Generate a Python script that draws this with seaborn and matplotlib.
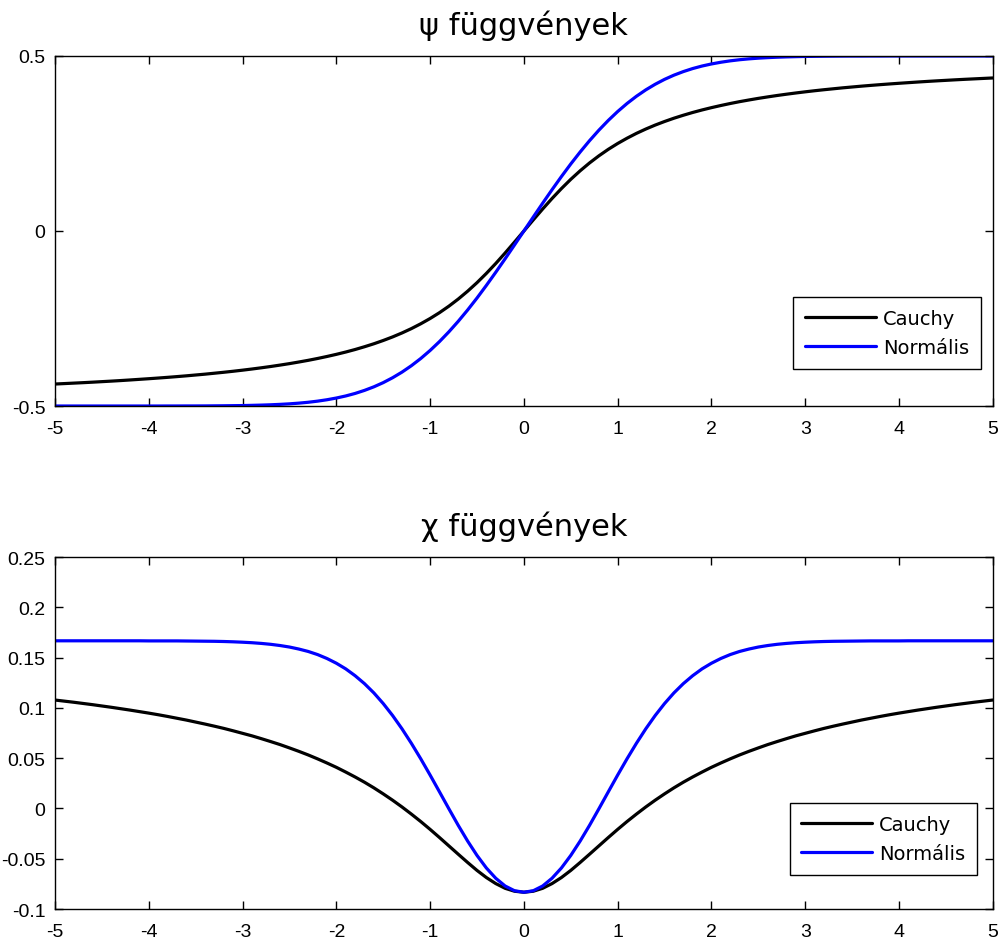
import matplotlib
matplotlib.use("Agg")
import matplotlib.pyplot as plt
import seaborn as sns
import pandas as pd

# x grid (step 0.1 from -5 to 5)
x_vals = [-5.0, -4.9, -4.8, -4.7, -4.6, -4.5, -4.4, -4.3, -4.2, -4.1,
          -4.0, -3.9, -3.8, -3.7, -3.6, -3.5, -3.4, -3.3, -3.2, -3.1,
          -3.0, -2.9, -2.8, -2.7, -2.6, -2.5, -2.4, -2.3, -2.2, -2.1,
          -2.0, -1.9, -1.8, -1.7, -1.6, -1.5, -1.4, -1.3, -1.2, -1.1,
          -1.0, -0.9, -0.8, -0.7, -0.6, -0.5, -0.4, -0.3, -0.2, -0.1,
          0.0,
          0.1, 0.2, 0.3, 0.4, 0.5, 0.6, 0.7, 0.8, 0.9, 1.0,
          1.1, 1.2, 1.3, 1.4, 1.5, 1.6, 1.7, 1.8, 1.9, 2.0,
          2.1, 2.2, 2.3, 2.4, 2.5, 2.6, 2.7, 2.8, 2.9, 3.0,
          3.1, 3.2, 3.3, 3.4, 3.5, 3.6, 3.7, 3.8, 3.9, 4.0,
          4.1, 4.2, 4.3, 4.4, 4.5, 4.6, 4.7, 4.8, 4.9, 5.0]

psi_cauchy = [-0.4372, -0.4359, -0.4346, -0.4333, -0.4319, -0.4304, -0.4289, -0.4273, -0.4256, -0.4238,
              -0.4220, -0.4201, -0.4181, -0.4160, -0.4138, -0.4114, -0.4090, -0.4063, -0.4036, -0.4007,
              -0.3976, -0.3943, -0.3908, -0.3871, -0.3831, -0.3789, -0.3743, -0.3695, -0.3642, -0.3585,
              -0.3524, -0.3458, -0.3386, -0.3307, -0.3222, -0.3128, -0.3026, -0.2913, -0.2789, -0.2651,
              -0.2500, -0.2333, -0.2148, -0.1944, -0.1720, -0.1476, -0.1211, -0.0928, -0.0628, -0.0317,
              0.0,
              0.0317, 0.0628, 0.0928, 0.1211, 0.1476, 0.1720, 0.1944, 0.2148, 0.2333, 0.2500,
              0.2651, 0.2789, 0.2913, 0.3026, 0.3128, 0.3222, 0.3307, 0.3386, 0.3458, 0.3524,
              0.3585, 0.3642, 0.3695, 0.3743, 0.3789, 0.3831, 0.3871, 0.3908, 0.3943, 0.3976,
              0.4007, 0.4036, 0.4063, 0.4090, 0.4114, 0.4138, 0.4160, 0.4181, 0.4201, 0.4220,
              0.4238, 0.4256, 0.4273, 0.4289, 0.4304, 0.4319, 0.4333, 0.4346, 0.4359, 0.4372]

psi_normal = [-0.5000, -0.5000, -0.5000, -0.5000, -0.5000, -0.5000, -0.5000, -0.5000, -0.5000, -0.5000,
              -0.5000, -0.5000, -0.4999, -0.4999, -0.4998, -0.4998, -0.4997, -0.4995, -0.4993, -0.4990,
              -0.4987, -0.4981, -0.4974, -0.4965, -0.4953, -0.4938, -0.4918, -0.4893, -0.4861, -0.4821,
              -0.4772, -0.4713, -0.4641, -0.4554, -0.4452, -0.4332, -0.4192, -0.4032, -0.3849, -0.3643,
              -0.3413, -0.3159, -0.2881, -0.2580, -0.2257, -0.1915, -0.1554, -0.1179, -0.0793, -0.0398,
              0.0,
              0.0398, 0.0793, 0.1179, 0.1554, 0.1915, 0.2257, 0.2580, 0.2881, 0.3159, 0.3413,
              0.3643, 0.3849, 0.4032, 0.4192, 0.4332, 0.4452, 0.4554, 0.4641, 0.4713, 0.4772,
              0.4821, 0.4861, 0.4893, 0.4918, 0.4938, 0.4953, 0.4965, 0.4974, 0.4981, 0.4987,
              0.4990, 0.4993, 0.4995, 0.4997, 0.4998, 0.4998, 0.4999, 0.4999, 0.5000, 0.5000,
              0.5000, 0.5000, 0.5000, 0.5000, 0.5000, 0.5000, 0.5000, 0.5000, 0.5000, 0.5000]

chi_cauchy = [0.1078, 0.1067, 0.1056, 0.1044, 0.1032, 0.1019, 0.1006, 0.0992, 0.0978, 0.0963,
              0.0948, 0.0932, 0.0915, 0.0897, 0.0879, 0.0859, 0.0839, 0.0818, 0.0796, 0.0772,
              0.0747, 0.0722, 0.0694, 0.0665, 0.0635, 0.0602, 0.0568, 0.0532, 0.0493, 0.0452,
              0.0409, 0.0362, 0.0313, 0.0261, 0.0205, 0.0145, 0.0082, 0.0015, -0.0056, -0.0130,
              -0.0208, -0.0289, -0.0372, -0.0455, -0.0537, -0.0616, -0.0687, -0.0747, -0.0794, -0.0823,
              -0.0833,
              -0.0823, -0.0794, -0.0747, -0.0687, -0.0616, -0.0537, -0.0455, -0.0372, -0.0289, -0.0208,
              -0.0130, -0.0056, 0.0015, 0.0082, 0.0145, 0.0205, 0.0261, 0.0313, 0.0362, 0.0409,
              0.0452, 0.0493, 0.0532, 0.0568, 0.0602, 0.0635, 0.0665, 0.0694, 0.0722, 0.0747,
              0.0772, 0.0796, 0.0818, 0.0839, 0.0859, 0.0879, 0.0897, 0.0915, 0.0932, 0.0948,
              0.0963, 0.0978, 0.0992, 0.1006, 0.1019, 0.1032, 0.1044, 0.1056, 0.1067, 0.1078]

chi_normal = [0.1667, 0.1667, 0.1667, 0.1667, 0.1667, 0.1667, 0.1667, 0.1667, 0.1667, 0.1667,
              0.1666, 0.1666, 0.1666, 0.1666, 0.1665, 0.1664, 0.1663, 0.1662, 0.1660, 0.1657,
              0.1653, 0.1648, 0.1641, 0.1632, 0.1620, 0.1605, 0.1585, 0.1561, 0.1530, 0.1491,
              0.1444, 0.1388, 0.1320, 0.1241, 0.1149, 0.1043, 0.0924, 0.0792, 0.0648, 0.0494,
              0.0332, 0.0165, -0.0003, -0.0168, -0.0324, -0.0467, -0.0592, -0.0694, -0.0771, -0.0818,
              -0.0833,
              -0.0818, -0.0771, -0.0694, -0.0592, -0.0467, -0.0324, -0.0168, -0.0003, 0.0165, 0.0332,
              0.0494, 0.0648, 0.0792, 0.0924, 0.1043, 0.1149, 0.1241, 0.1320, 0.1388, 0.1444,
              0.1491, 0.1530, 0.1561, 0.1585, 0.1605, 0.1620, 0.1632, 0.1641, 0.1648, 0.1653,
              0.1657, 0.1660, 0.1662, 0.1663, 0.1664, 0.1665, 0.1666, 0.1666, 0.1666, 0.1666,
              0.1667, 0.1667, 0.1667, 0.1667, 0.1667, 0.1667, 0.1667, 0.1667, 0.1667, 0.1667]

series_labels = ["Cauchy", "Normális"]
titles = ["ψ függvények", "χ függvények"]
x_ticks = [-5, -4, -3, -2, -1, 0, 1, 2, 3, 4, 5]
psi_ticks = [-0.5, 0, 0.5]
psi_ticklabels = ["-0.5", "0", "0.5"]
chi_ticks = [-0.1, -0.05, 0, 0.05, 0.1, 0.15, 0.2, 0.25]
chi_ticklabels = ["-0.1", "-0.05", "0", "0.05", "0.1", "0.15", "0.2", "0.25"]

sns.set_theme(style="white")
plt.rcParams['font.family'] = ['DejaVu Sans']
plt.rcParams['axes.edgecolor'] = 'black'
plt.rcParams['axes.linewidth'] = 1.0
plt.rcParams['text.color'] = 'black'
plt.rcParams['xtick.color'] = 'black'
plt.rcParams['ytick.color'] = 'black'
plt.rcParams['axes.labelcolor'] = 'black'

fig = plt.figure(figsize=(10.04, 9.45), dpi=100)
fig.patch.set_facecolor("white")
ax1 = fig.add_axes([0.0548, 0.5693, 0.934, 0.3704])
ax2 = fig.add_axes([0.0548, 0.0370, 0.934, 0.3725])

colors = ["black", "#0000ff"]

def draw(ax, ys, title, yticks, yticklabels, ylim, legend_anchor):
    for y, lab, c in zip(ys, series_labels, colors):
        df = pd.DataFrame({"x": x_vals, "y": y})
        sns.lineplot(data=df, x="x", y="y", ax=ax, color=c, linewidth=2.3, label=lab)
    ax.set_xlim(-5, 5)
    ax.set_ylim(*ylim)
    ax.set_xticks(x_ticks)
    ax.set_xticklabels([str(t) for t in x_ticks], family="Liberation Sans", fontsize=14)
    ax.set_yticks(yticks)
    ax.set_yticklabels(yticklabels, family="Liberation Sans", fontsize=14)
    ax.set_xlabel("")
    ax.set_ylabel("")
    ax.tick_params(direction="in", top=True, right=True, bottom=True, left=True,
                   length=6, width=1.0, colors="black", pad=7)
    ax.tick_params(axis="x", pad=10)
    for s in ax.spines.values():
        s.set_visible(True)
        s.set_color("black")
        s.set_linewidth(1.0)
    ax.set_title(title, fontsize=22, pad=16, color="black")
    leg = ax.legend(loc="lower right", bbox_to_anchor=legend_anchor, borderaxespad=0,
                    fontsize=14, frameon=True, fancybox=False, framealpha=1,
                    edgecolor="black", handlelength=3.65, handletextpad=0.35,
                    labelspacing=0.55, borderpad=0.6, labelcolor="black")
    leg.get_frame().set_linewidth(1.0)

draw(ax1, [psi_cauchy, psi_normal], titles[0], psi_ticks, psi_ticklabels, (-0.5, 0.5), (0.987, 0.106))
draw(ax2, [chi_cauchy, chi_normal], titles[1], chi_ticks, chi_ticklabels, (-0.1, 0.25), (0.983, 0.097))

fig.savefig("out.png", dpi=100, facecolor="white")
